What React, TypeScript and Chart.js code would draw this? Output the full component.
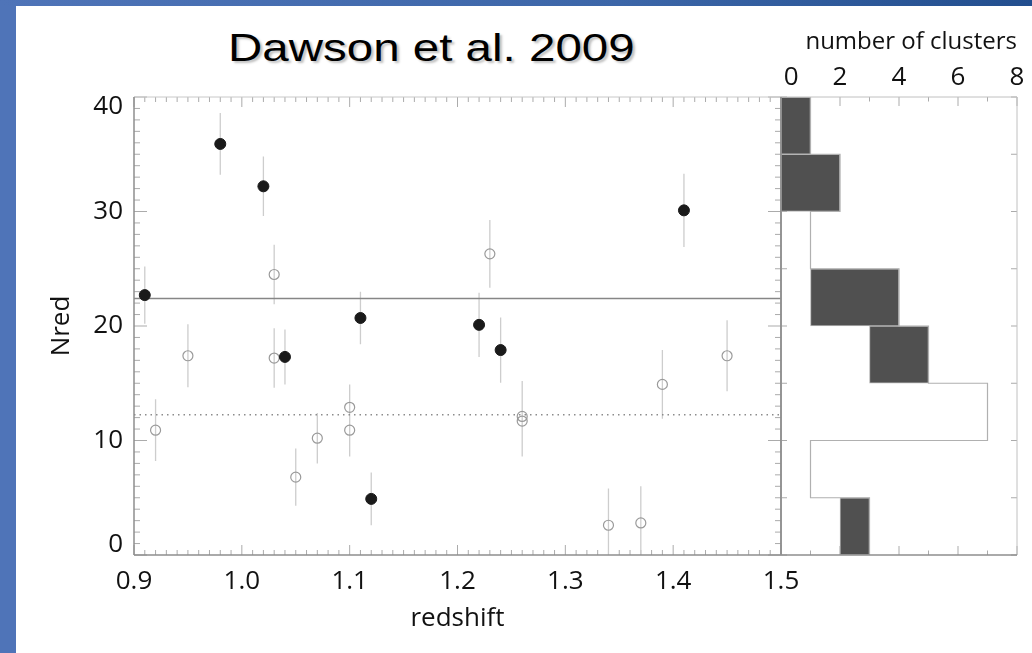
import React, { useEffect, useRef } from "react";
import { Chart, registerables } from "chart.js";

Chart.register(...registerables);

// ---------- data ----------
// filled (dark) clusters
const FILLED_Z = [0.91, 0.98, 1.02, 1.04, 1.11, 1.12, 1.22, 1.24, 1.41];
const FILLED_N = [22.7, 35.9, 32.2, 17.3, 20.7, 4.9, 20.1, 17.9, 30.1];
const FILLED_ERR = [2.5, 2.7, 2.6, 2.4, 2.3, 2.3, 2.8, 2.85, 3.2];

// open clusters
const OPEN_Z = [0.92, 0.95, 1.03, 1.03, 1.05, 1.07, 1.1, 1.1, 1.23, 1.26, 1.26, 1.34, 1.37, 1.39, 1.45];
const OPEN_N = [10.9, 17.4, 24.5, 17.2, 6.8, 10.2, 12.9, 10.9, 26.3, 12.1, 11.7, 2.6, 2.8, 14.9, 17.4];
const OPEN_ERR = [2.7, 2.75, 2.6, 2.6, 2.5, 2.2, 2.0, 2.3, 2.95, 3.1, 3.1, 3.2, 3.2, 3.0, 3.1];

// reference levels
const MEAN_FILLED = 22.4;
const MEAN_OPEN = 12.25;

// axes
const X_MIN = 0.9;
const X_MAX = 1.5;
const X_TICKS = [0.9, 1.0, 1.1, 1.2, 1.3, 1.4, 1.5];
const Y_MIN = 0;
const Y_MAX = 40;
const Y_TICKS = [0, 10, 20, 30, 40];

// histogram (bins of Nred)
const BIN_EDGES = [0, 5, 10, 15, 20, 25, 30, 35, 40];
const HIST_OPEN = [2, 1, 7, 3, 1, 1, 0, 0];
const HIST_FILLED = [1, 0, 0, 2, 3, 0, 2, 1];
const HIST_TICKS = [0, 2, 4, 6, 8];
const HIST_MAX = 8;

const FONT = "'Open Sans', 'Noto Sans', sans-serif";

function errorBarPoints(z: number[], n: number[], e: number[]) {
  const out: any[] = [];
  for (let i = 0; i < z.length; i++) {
    out.push({ x: z[i], y: n[i] - e[i] }, { x: z[i], y: n[i] + e[i] }, { x: z[i], y: null });
  }
  return out;
}

function line(ctx: CanvasRenderingContext2D, x1: number, y1: number, x2: number, y2: number) {
  ctx.moveTo(x1, y1);
  ctx.lineTo(x2, y2);
}

const mainFrame = {
  id: "mainFrame",
  beforeDatasetsDraw(chart: any) {
    const { ctx, chartArea, scales } = chart;
    const { left, right, top, bottom } = chartArea;
    const xs = scales.x;
    const ys = scales.y;
    ctx.save();
    ctx.strokeStyle = "#ababab";
    ctx.lineWidth = 1;
    ctx.beginPath();
    const nx = Math.round((X_MAX - X_MIN) / 0.01);
    for (let k = 0; k <= nx; k++) {
      const px = xs.getPixelForValue(X_MIN + k * 0.01);
      const len = k % 10 === 0 ? 10 : 5;
      line(ctx, px, bottom, px, bottom - len);
      line(ctx, px, top, px, top + len);
    }
    for (let v = Y_MIN; v <= Y_MAX; v += 1) {
      const py = ys.getPixelForValue(v);
      const len = v % 10 === 0 ? 13 : 6;
      line(ctx, left, py, left + len, py);
      line(ctx, right, py, right - len, py);
    }
    ctx.stroke();
    ctx.restore();
  },
  afterDatasetsDraw(chart: any) {
    const { ctx, chartArea } = chart;
    const { left, right, top, bottom } = chartArea;
    ctx.save();
    ctx.lineWidth = 1;
    ctx.strokeStyle = "#c8c8c8";
    ctx.beginPath();
    line(ctx, left, top, right, top);
    ctx.stroke();
    ctx.lineWidth = 1.5;
    ctx.strokeStyle = "#8f8f8f";
    ctx.beginPath();
    line(ctx, left, top, left, bottom);
    line(ctx, left, bottom, right, bottom);
    line(ctx, right, top, right, bottom);
    ctx.stroke();
    ctx.restore();
  },
};

const histFrame = {
  id: "histFrame",
  beforeDatasetsDraw(chart: any) {
    const { ctx, chartArea, scales } = chart;
    const { left, right, top, bottom } = chartArea;
    const xs = scales.x;
    const ys = scales.y;
    ctx.save();
    ctx.strokeStyle = "#ababab";
    ctx.lineWidth = 1;
    ctx.beginPath();
    for (let c = 0; c <= HIST_MAX; c++) {
      const px = xs.getPixelForValue(c);
      const len = c % 2 === 0 ? 9 : 4.5;
      line(ctx, px, bottom, px, bottom - len);
      line(ctx, px, top, px, top + len);
    }
    for (let v = Y_MIN; v <= Y_MAX; v += 5) {
      const py = ys.getPixelForValue(v);
      line(ctx, left, py, left + 6, py);
      line(ctx, right, py, right - 6, py);
    }
    ctx.stroke();
    ctx.restore();
  },
  afterDatasetsDraw(chart: any) {
    const { ctx, chartArea } = chart;
    const { left, right, top, bottom } = chartArea;
    ctx.save();
    ctx.lineWidth = 1;
    ctx.strokeStyle = "#c0c0c0";
    ctx.beginPath();
    line(ctx, left, top, right, top);
    line(ctx, right, top, right, bottom);
    ctx.stroke();
    ctx.lineWidth = 1.5;
    ctx.strokeStyle = "#8f8f8f";
    ctx.beginPath();
    line(ctx, left, top, left, bottom);
    line(ctx, left, bottom, right, bottom);
    ctx.stroke();
    ctx.restore();
  },
};

export default function App() {
  const mainRef = useRef<HTMLCanvasElement>(null);
  const histRef = useRef<HTMLCanvasElement>(null);

  useEffect(() => {
    document.body.style.margin = "0";
    document.body.style.overflow = "hidden";

    const filledPts = FILLED_Z.map((z, i) => ({ x: z, y: FILLED_N[i] }));
    const openPts = OPEN_Z.map((z, i) => ({ x: z, y: OPEN_N[i] }));
    const errPts = [
      ...errorBarPoints(FILLED_Z, FILLED_N, FILLED_ERR),
      ...errorBarPoints(OPEN_Z, OPEN_N, OPEN_ERR),
    ];

    const main = new Chart(mainRef.current as HTMLCanvasElement, {
      type: "scatter",
      data: {
        datasets: [
          {
            label: "filled",
            data: filledPts,
            pointRadius: 5.5,
            pointBackgroundColor: "#1a1a1a",
            pointBorderColor: "#1a1a1a",
            pointBorderWidth: 1,
            order: 0,
          },
          {
            label: "open",
            data: openPts,
            pointRadius: 5,
            pointBackgroundColor: "rgba(255,255,255,0)",
            pointBorderColor: "#9a9a9a",
            pointBorderWidth: 1.2,
            order: 1,
          },
          {
            label: "mean filled",
            data: [
              { x: X_MIN, y: MEAN_FILLED },
              { x: X_MAX, y: MEAN_FILLED },
            ],
            showLine: true,
            borderColor: "#868686",
            borderWidth: 1.6,
            pointRadius: 0,
            order: 2,
          },
          {
            label: "mean open",
            data: [
              { x: X_MIN, y: MEAN_OPEN },
              { x: X_MAX, y: MEAN_OPEN },
            ],
            showLine: true,
            borderColor: "#8c8c8c",
            borderWidth: 1.4,
            borderDash: [1.5, 4],
            pointRadius: 0,
            order: 2,
          },
          {
            label: "errors",
            data: errPts,
            showLine: true,
            spanGaps: false,
            borderColor: "#cdcdcd",
            borderWidth: 1.3,
            pointRadius: 0,
            order: 3,
          },
        ] as any,
      },
      options: {
        responsive: false,
        animation: false,
        events: [],
        layout: { padding: { left: 0, top: 97, right: 251, bottom: 0 } },
        plugins: { legend: { display: false }, tooltip: { enabled: false } },
        scales: {
          x: {
            type: "linear",
            min: X_MIN,
            max: X_MAX,
            position: "bottom",
            grid: { display: false, drawTicks: false },
            border: { display: false },
            afterBuildTicks: (s: any) => {
              s.ticks = X_TICKS.map((v) => ({ value: v }));
            },
            afterFit: (s: any) => {
              s.height = 98;
            },
            ticks: {
              font: { family: FONT, size: 26 },
              color: "#111",
              padding: 11,
              maxRotation: 0,
              autoSkip: false,
              callback: (v: any) => Number(v).toFixed(1),
            },
            title: {
              display: true,
              text: "redshift",
              font: { family: FONT, size: 26 },
              color: "#111",
              padding: { top: 0, bottom: 19 },
            },
          },
          y: {
            type: "linear",
            min: Y_MIN,
            max: Y_MAX,
            position: "left",
            grid: { display: false, drawTicks: false },
            border: { display: false },
            afterBuildTicks: (s: any) => {
              s.ticks = Y_TICKS.map((v) => ({ value: v }));
            },
            afterFit: (s: any) => {
              s.width = 134;
            },
            ticks: {
              font: { family: FONT, size: 26, lineHeight: "20px" },
              color: "#111",
              padding: 11,
              autoSkip: false,
              callback: (v: any) => {
                const t = String(v);
                if (v === Y_MAX) return ["", t];
                if (v === Y_MIN) return [t, ""];
                return t;
              },
            },
            title: {
              display: true,
              text: "Nred",
              font: { family: FONT, size: 26 },
              color: "#111",
              padding: { top: 46, bottom: 0 },
            },
          },
        },
      } as any,
      plugins: [mainFrame],
    });

    const mids = BIN_EDGES.slice(0, -1).map((e, i) => (e + BIN_EDGES[i + 1]) / 2);
    const envelope: any[] = [];
    for (let i = 0; i < HIST_OPEN.length; i++) {
      const total = HIST_OPEN[i] + HIST_FILLED[i];
      envelope.push({ x: total, y: BIN_EDGES[i] }, { x: total, y: BIN_EDGES[i + 1] });
    }

    const hist = new Chart(histRef.current as HTMLCanvasElement, {
      type: "bar",
      data: {
        datasets: [
          {
            type: "bar",
            label: "open",
            data: HIST_OPEN.map((c, i) => ({ x: c, y: mids[i] })),
            backgroundColor: "rgba(255,255,255,0)",
            borderWidth: 0,
            barPercentage: 1,
            categoryPercentage: 1,
            order: 1,
          },
          {
            type: "bar",
            label: "filled",
            data: HIST_FILLED.map((c, i) => ({ x: c > 0 ? c : null, y: mids[i] })),
            backgroundColor: "#505050",
            borderColor: "#b5b5b5",
            borderWidth: 1,
            borderSkipped: false,
            barPercentage: 1,
            categoryPercentage: 1,
            order: 2,
          },
          {
            type: "line",
            label: "total",
            data: envelope,
            indexAxis: "x",
            borderColor: "#b0b0b0",
            borderWidth: 1.2,
            pointRadius: 0,
            fill: false,
            order: 0,
          },
        ] as any,
      },
      options: {
        indexAxis: "y",
        responsive: false,
        animation: false,
        events: [],
        layout: { padding: { left: 781, top: 0, right: 15, bottom: 98 } },
        plugins: { legend: { display: false }, tooltip: { enabled: false } },
        scales: {
          x: {
            type: "linear",
            position: "top",
            min: 0,
            max: HIST_MAX,
            offset: false,
            stacked: true,
            grid: { display: false, drawTicks: false, offset: false },
            border: { display: false },
            afterBuildTicks: (s: any) => {
              s.ticks = HIST_TICKS.map((v) => ({ value: v }));
            },
            afterFit: (s: any) => {
              s.height = 97;
            },
            ticks: {
              font: { family: FONT, size: 26 },
              color: "#111",
              padding: 4,
              maxRotation: 0,
              autoSkip: false,
              callback: (v: any) => (v === 0 ? "   0" : String(v)),
            },
            title: {
              display: true,
              text: "number of clusters",
              align: "end",
              font: { family: FONT, size: 24 },
              color: "#111",
              padding: { top: 28, bottom: 0 },
            },
          },
          y: {
            type: "linear",
            position: "left",
            min: Y_MIN,
            max: Y_MAX,
            offset: false,
            stacked: true,
            grid: { display: false, drawTicks: false, offset: false },
            border: { display: false },
            afterBuildTicks: (s: any) => {
              s.ticks = BIN_EDGES.map((v) => ({ value: v }));
            },
            afterFit: (s: any) => {
              s.width = 0;
            },
            ticks: { display: false },
          },
        },
      } as any,
      plugins: [histFrame],
    });

    return () => {
      main.destroy();
      hist.destroy();
    };
  }, []);

  return (
    <div
      style={{
        position: "absolute",
        left: 0,
        top: 0,
        width: 1032,
        height: 653,
        overflow: "hidden",
        background: "#ffffff",
      }}
    >
      <div
        style={{
          position: "absolute",
          left: 0,
          top: 0,
          width: 16,
          height: 653,
          background: "#4f74b8",
        }}
      />
      <div
        style={{
          position: "absolute",
          left: 0,
          top: 0,
          width: 1032,
          height: 6,
          background: "linear-gradient(90deg, #4f74b8 0%, #3c66a8 60%, #224e8e 100%)",
        }}
      />
      <div
        style={{
          position: "absolute",
          left: 228,
          top: 29,
          fontFamily: "'Liberation Sans', Arial, sans-serif",
          fontSize: 38,
          lineHeight: 1,
          whiteSpace: "nowrap",
          color: "#000",
          transform: "scaleX(1.25)",
          transformOrigin: "left top",
          textShadow: "2px 2px 2px rgba(0,0,0,0.25)",
        }}
      >
        Dawson et al. 2009
      </div>
      <canvas
        ref={mainRef}
        width={1032}
        height={653}
        style={{ position: "absolute", left: 0, top: 0 }}
      />
      <canvas
        ref={histRef}
        width={1032}
        height={653}
        style={{ position: "absolute", left: 0, top: 0 }}
      />
    </div>
  );
}
